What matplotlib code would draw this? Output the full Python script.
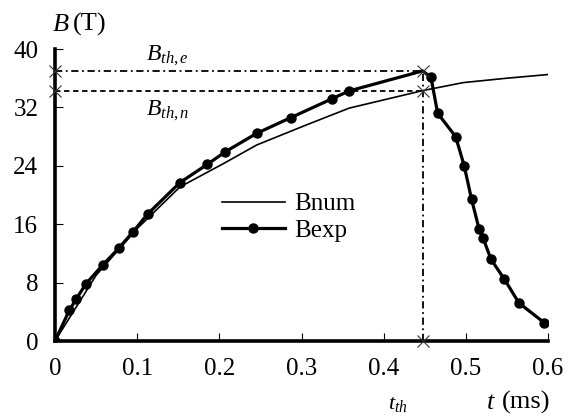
import numpy as np
import matplotlib.pyplot as plt

plt.rcParams['font.family'] = 'Liberation Serif'
plt.rcParams['mathtext.fontset'] = 'custom'
plt.rcParams['mathtext.rm'] = 'Liberation Serif'
plt.rcParams['mathtext.it'] = 'Liberation Serif:italic'

# datos
t_num = [0, 0.05, 0.1, 0.152, 0.205, 0.2455, 0.306, 0.358, 0.4475, 0.497, 0.55, 0.6]
B_num = [0, 9.0, 15.4, 21.1, 24.3, 26.85, 29.6, 31.9, 34.3, 35.4, 36.0, 36.5]

t_exp = [0, 0.0174, 0.0256, 0.0377, 0.058, 0.0775, 0.0953, 0.1128, 0.152, 0.1854,
         0.207, 0.2455, 0.287, 0.3375, 0.3578, 0.4475, 0.4576, 0.4657, 0.4876, 0.498,
         0.507, 0.516, 0.521, 0.5306, 0.547, 0.5647, 0.5955]
B_exp = [0, 4.2, 5.7, 7.85, 10.4, 12.7, 15.0, 17.4, 21.7, 24.2,
         25.9, 28.45, 30.6, 33.2, 34.25, 37.0, 36.1, 31.2, 28.0, 24.0,
         19.4, 15.4, 14.1, 11.2, 8.45, 5.2, 2.5]
pico = 15  # vertice sin marcador

t_th = 0.4475
B_th_e = 37.0
B_th_n = 34.3

fig = plt.figure(figsize=(5.68, 4.16), dpi=100)
ax = fig.add_axes([55/568, 75/416, 493/568, 292/416])

ax.plot(t_num, B_num, color='black', lw=1.2, label='Bnum')
marcas = [i for i in range(len(t_exp)) if i != pico]
ax.plot(t_exp, B_exp, color='black', lw=2.3, marker='o', ms=6.5,
        markevery=marcas, label='Bexp')

# lineas de umbral
ax.plot([0, t_th], [B_th_e, B_th_e], color='black', lw=1.3, ls=(0, (4, 2, 1, 2)))
ax.plot([0, t_th], [B_th_n, B_th_n], color='black', lw=1.3, ls=(0, (3, 2)))
ax.plot([t_th, t_th], [0, B_th_e], color='black', lw=1.3, ls=(0, (4, 2, 1, 2)))
ax.plot([0, 0, t_th, t_th, t_th], [B_th_e, B_th_n, B_th_e, B_th_n, 0],
        ls='none', marker='x', ms=9, mew=0.8, color='#333333', clip_on=False, zorder=5)

ax.set_xlim(0, 0.6)
ax.set_ylim(0, 40)
ax.set_xticks([0, 0.1, 0.2, 0.3, 0.4, 0.5, 0.6])
ax.set_xticklabels(['0', '0.1', '0.2', '0.3', '0.4', '0.5', '0.6'])
ax.set_yticks([0, 8, 16, 24, 32, 40])
ax.spines['top'].set_visible(False)
ax.spines['right'].set_visible(False)
ax.spines['left'].set_linewidth(2.6)
ax.spines['bottom'].set_linewidth(2.6)
ax.tick_params(direction='in', length=6, width=0.8, labelsize=18, pad=12)

ax.legend(loc='upper left', bbox_to_anchor=(212/568, 1 - 183/416),
          bbox_transform=fig.transFigure, frameon=False,
          fontsize=18, handlelength=2.5, handletextpad=0.4, labelspacing=0.15,
          borderaxespad=0)

# textos
fig.text(52/568, 1 - 31/416, r'$B$', fontsize=19)
fig.text(73/568, 1 - 31/416, '(T)', fontsize=19)
fig.text(486/568, 1 - 409/416, r'$t$', fontsize=19)
fig.text(502/568, 1 - 409/416, '(ms)', fontsize=19)
fig.text(388/568, 1 - 409/416, r'$t_{th}$', fontsize=16)
fig.text(146/568, 1 - 60/416, r'$B_{th,e}$', fontsize=17)
fig.text(146/568, 1 - 115/416, r'$B_{th,n}$', fontsize=17)

plt.savefig('out.png', dpi=100)
